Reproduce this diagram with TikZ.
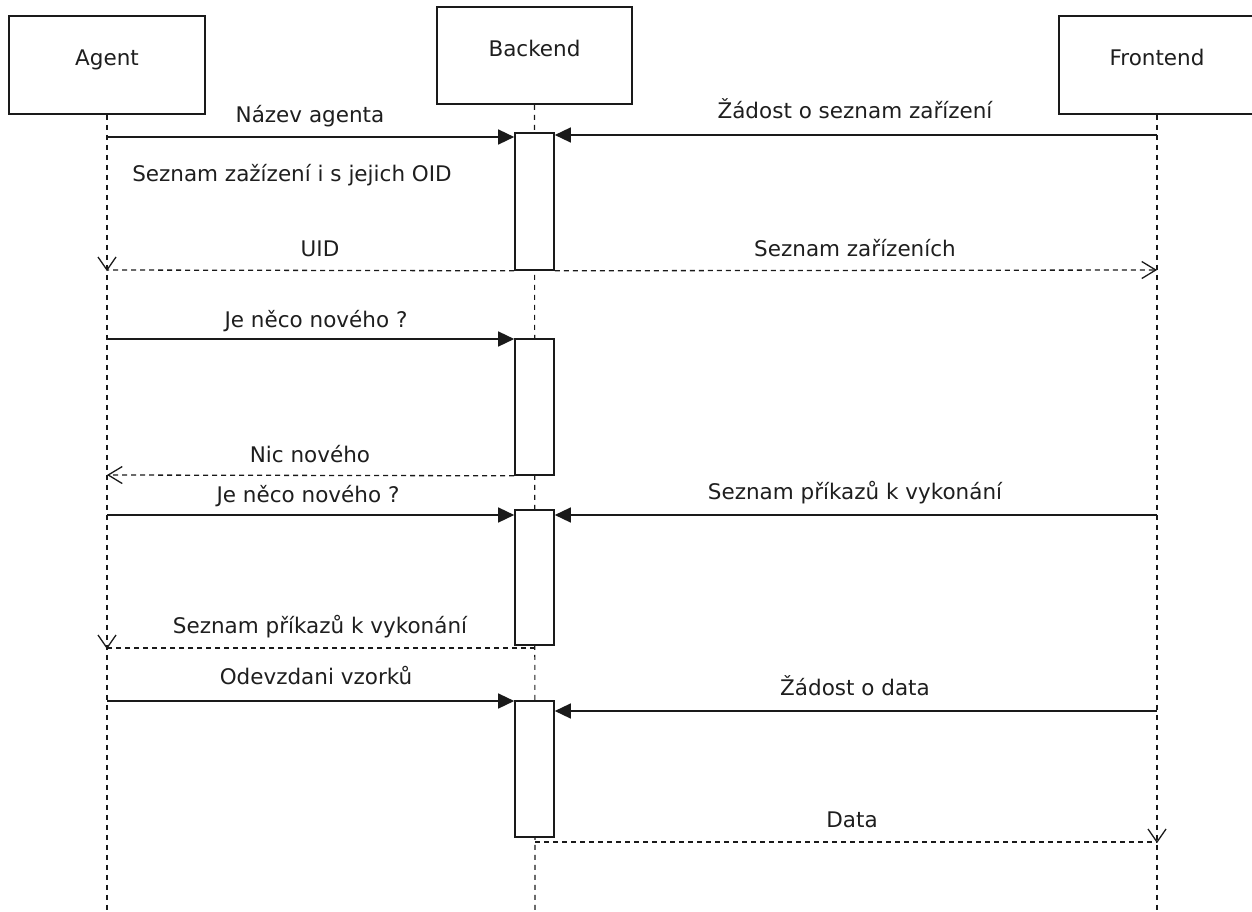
\documentclass[tikz,border=0pt]{standalone}
\usepackage{fontspec}
\setmainfont{DejaVu Sans}
\usetikzlibrary{arrows.meta}
\definecolor{ink}{HTML}{1A1A1A}
\definecolor{txt}{HTML}{1E1E1E}

\begin{document}
\begin{tikzpicture}[x=1pt,y=-1pt,
  font=\fontsize{21.5}{25}\selectfont,
  actor/.style={draw=ink, line width=1.6pt, fill=white, inner sep=0pt,
    minimum width=196pt, minimum height=98pt, text=txt,
    text height=12pt, text depth=10pt},
  activation/.style={draw=ink, line width=1.6pt, fill=white, inner sep=0pt,
    minimum width=39pt},
  lifeline/.style={draw=ink, line width=1.2pt, dash pattern=on 5pt off 5pt},
  call/.style={draw=ink, line width=1.4pt, -{Triangle[length=16pt,width=15pt]}},
  reply/.style={draw=ink, line width=1.3pt, dash pattern=on 5pt off 4pt},
  replytip/.style={reply, -{Straight Barb[length=14pt,width=17pt,line width=1.3pt]}},
  barb/.style={draw=ink, line width=1.3pt},
  msg/.style={text=txt, inner sep=0pt, anchor=base},
]
\useasboundingbox (0,0) rectangle (1252,912);

% participants
\node[actor] (agent)    at (107,65)    {Agent};
\node[actor, minimum width=195pt, minimum height=97pt] (backend) at (534.5,55.5) {Backend};
\node[actor] (frontend) at (1157,65)   {Frontend};

% lifelines
\coordinate (agentEnd)    at (107,912);
\coordinate (backendEnd)  at (535,912);
\coordinate (frontendEnd) at (1157,912);
\draw[lifeline] (agent.south)    -- (agentEnd);
\draw[lifeline] (backend.south)  -- (backendEnd);
\draw[lifeline] (frontend.south) -- (frontendEnd);

% activations on the backend
\node[activation, minimum height=137pt] (act1) at (534.5,201.5) {};
\node[activation, minimum height=136pt] (act2) at (534.5,407)   {};
\node[activation, minimum height=135pt] (act3) at (534.5,577.5) {};
\node[activation, minimum height=136pt] (act4) at (534.5,769)   {};

% first exchange
\coordinate (m1) at (107,137);
\coordinate (m2) at (1157,135);
\coordinate (m4) at (107,270);
\coordinate (m5) at (1157,270);
\draw[call] (m1) -- (act1.west |- m1);
\draw[call] (m2) -- (act1.east |- m2);
\draw[reply] (act1.south west) -- (m4);
\draw[barb] (m4) ++(-9,-13) -- (m4) -- ++(9,-13);
\draw[replytip] (act1.south east) -- (m5);
\node[msg] (l1) at (310,123) {Název agenta};
\node[msg] (l2) at (855,119) {Žádost o seznam zařízení};
\node[msg] (l3) at (292,182) {Seznam zažízení i s jejich OID};
\node[msg] (l4) at (320,256) {UID};
\node[msg] (l5) at (855,256) {Seznam zařízeních};

% polling with nothing new
\coordinate (m6) at (107,339);
\coordinate (m7) at (107,475);
\draw[call] (m6) -- (act2.west |- m6);
\draw[replytip] (act2.south west) -- (m7);
\node[msg] (l6) at (316,327) {Je něco nového ?};
\node[msg] (l7) at (310,462) {Nic nového};

% polling with queued commands
\coordinate (m8)  at (107,515);
\coordinate (m9)  at (1157,515);
\coordinate (m10s) at (535,648);
\coordinate (m10) at (107,648);
\draw[call] (m8) -- (act3.west |- m8);
\draw[call] (m9) -- (act3.east |- m9);
\draw[reply] (m10s) -- (m10);
\draw[barb] (m10) ++(-9,-13) -- (m10) -- ++(9,-13);
\node[msg] (l8)  at (308,502) {Je něco nového ?};
\node[msg] (l9)  at (855,499) {Seznam příkazů k vykonání};
\node[msg] (l10) at (320,633) {Seznam příkazů k vykonání};

% samples and data
\coordinate (m11) at (107,701);
\coordinate (m12) at (1157,711);
\coordinate (m13s) at (535,842);
\coordinate (m13) at (1157,842);
\draw[call] (m11) -- (act4.west |- m11);
\draw[call] (m12) -- (act4.east |- m12);
\draw[reply] (m13s) -- (m13);
\draw[barb] (m13) ++(-9,-13) -- (m13) -- ++(9,-13);
\node[msg] (l11) at (316,684) {Odevzdani vzorků};
\node[msg] (l12) at (855,695) {Žádost o data};
\node[msg] (l13) at (852,827) {Data};
\end{tikzpicture}
\end{document}
